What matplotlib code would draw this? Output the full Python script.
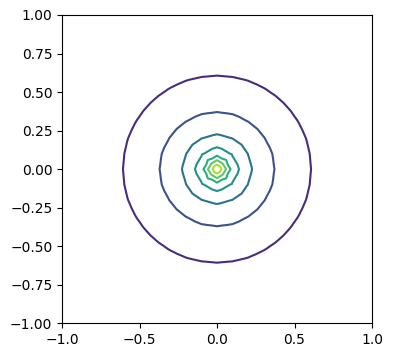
import numpy as np
import matplotlib
matplotlib.use("Agg")
import matplotlib.pyplot as plt
import matplotlib.tri as mtri

# contour levels of z = -ln(r), read from the ring radii (0.61, 0.37, 0.23, 0.13, ...)
levels = [0.5, 1.0, 1.5, 2.0, 2.5, 3.0, 3.5]
vmin, vmax = 0.0, 4.0

# coarse sampling grid (rings look faceted)
n = 21
lim = 1.0
eps = 3.4e-4

x = np.linspace(-lim, lim, n)
X, Y = np.meshgrid(x, x)
Z = -0.5 * np.log(X**2 + Y**2 + eps)

# split every quad in 4 triangles around its centre (like quad_as_tri)
xc = 0.5 * (x[:-1] + x[1:])
XC, YC = np.meshgrid(xc, xc)
ZC = 0.25 * (Z[:-1, :-1] + Z[1:, :-1] + Z[:-1, 1:] + Z[1:, 1:])

px = np.concatenate([X.ravel(), XC.ravel()])
py = np.concatenate([Y.ravel(), YC.ravel()])
pz = np.concatenate([Z.ravel(), ZC.ravel()])

tris = []
for j in range(n - 1):
    for i in range(n - 1):
        a = j * n + i
        b = a + 1
        c = a + n + 1
        d = a + n
        m = n * n + j * (n - 1) + i
        tris += [[a, b, m], [b, c, m], [c, d, m], [d, a, m]]
tri = mtri.Triangulation(px, py, np.array(tris))

fig = plt.figure(figsize=(3.93, 3.57), dpi=100)
ax = fig.add_axes([0.1578, 0.0944, 0.7888, 0.8636])
ax.tricontour(tri, pz, levels=levels, cmap='viridis', vmin=vmin, vmax=vmax, linewidths=1.5)
ax.set_xlim(-1, 1)
ax.set_ylim(-1, 1)
ax.set_xticks([-1.0, -0.5, 0.0, 0.5, 1.0])
ax.set_yticks([-1.0, -0.75, -0.5, -0.25, 0.0, 0.25, 0.5, 0.75, 1.0])

fig.savefig("out.png", dpi=100)
